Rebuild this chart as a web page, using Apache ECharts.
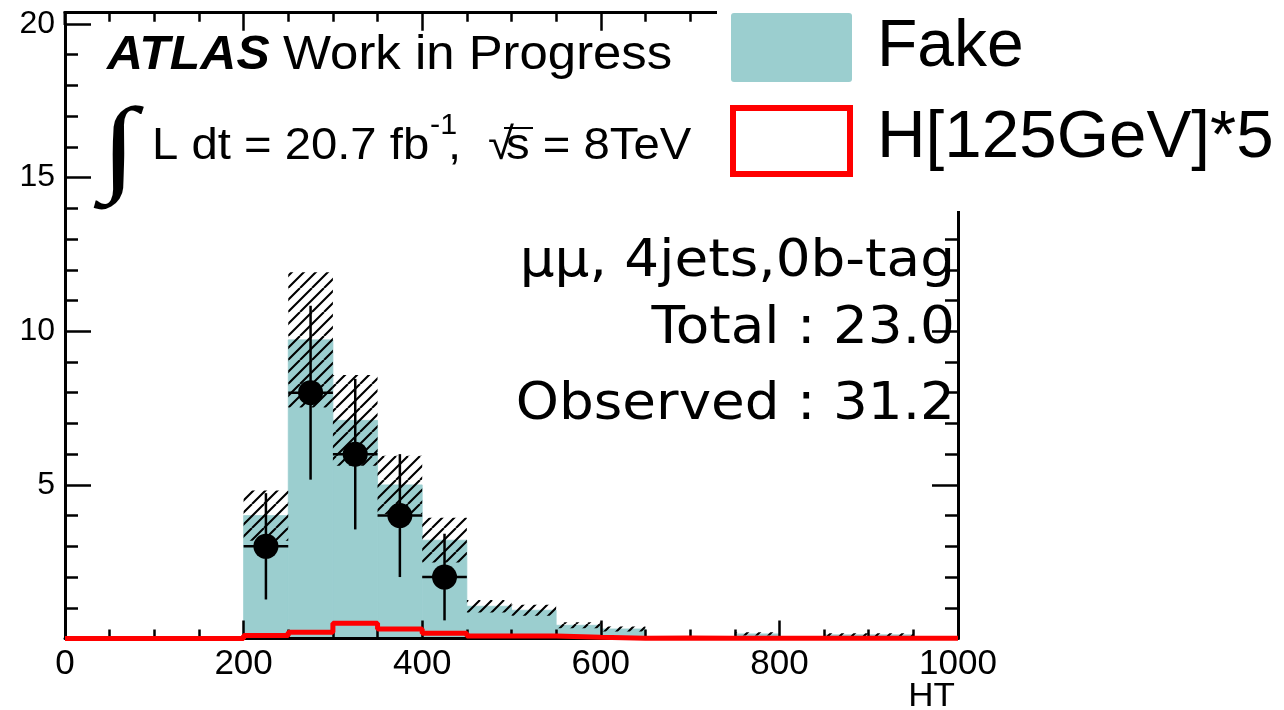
<!DOCTYPE html>
<html>
<head>
<meta charset="utf-8">
<script src="https://cdn.jsdelivr.net/npm/echarts@6/dist/echarts.min.js"></script>
<style>
  html, body { margin: 0; padding: 0; background: #ffffff; }
  #chart { width: 1284px; height: 710px; }
</style>
</head>
<body>
<div id="chart"></div>
<script>
// HT histogram, 50 GeV bins from 0 to 1000
const binWidth = 50;
const binLow = [0, 50, 100, 150, 200, 250, 300, 350, 400, 450,
                500, 550, 600, 650, 700, 750, 800, 850, 900, 950];
// Fake background expectation per bin
const fakeValues = [0, 0, 0, 0, 4.0, 9.72, 7.1, 5.0, 3.2, 1.05,
                    0.92, 0.43, 0.31, 0, 0, 0.15, 0, 0.12, 0.12, 0];
// Uncertainty on the fake estimate (hatched band)
const fakeErrors = [0, 0, 0, 0, 0.82, 2.2, 1.48, 0.95, 0.73, 0.2,
                    0.18, 0.1, 0.08, 0, 0, 0.05, 0, 0.05, 0.05, 0];
// Signal H[125GeV] scaled by 5
const higgsX5 = [0, 0, 0, 0, 0.1, 0.2, 0.5, 0.31, 0.17, 0.08,
                 0.08, 0.04, 0.01, 0.02, 0.005, 0.005, 0.005, 0.005, 0.005, 0.005];
// Observed data points
const dataX = [225, 275, 325, 375, 425];
const dataY = [3, 8, 6, 4, 2];
const dataErr = [1.73, 2.83, 2.45, 2.0, 1.41];

const FAKE_COLOR = '#9bcecf';
const RED = '#ff0000';
const SANS = '"Liberation Sans", Arial, Helvetica, sans-serif';
const STAT_FONT = '"DejaVu Sans", Verdana, sans-serif';

// frame geometry (pixels)
const FRAME_LEFT = 65, FRAME_RIGHT = 958, FRAME_TOP = 12.7, AXIS_TOP = 24, AXIS_BOTTOM = 638.5;

// diagonal hatch tile for the uncertainty band
function makeHatch() {
  const s = 12;
  const n = 24;
  const c = document.createElement('canvas');
  c.width = n; c.height = n;
  const ctx = c.getContext('2d');
  ctx.strokeStyle = '#000';
  ctx.lineWidth = 2.1;
  ctx.beginPath();
  for (let k = -1; k <= 4; k++) {
    ctx.moveTo(k * s - n, n); ctx.lineTo(k * s, 0);
  }
  ctx.stroke();
  return c;
}
const hatchPattern = { image: makeHatch(), repeat: 'repeat' };

const fakeBins = binLow.map((x, i) => [x, x + binWidth, fakeValues[i]]);
const bandBins = binLow.map((x, i) => [x, x + binWidth,
  Math.max(0, fakeValues[i] - fakeErrors[i]), fakeValues[i] + fakeErrors[i]]);
const higgsStep = binLow.map((x, i) => [x, higgsX5[i]]);
higgsStep.push([binLow[binLow.length - 1] + binWidth, higgsX5[higgsX5.length - 1]]);
const points = dataX.map((x, i) => [x, dataY[i], dataErr[i]]);

const tickStyle = { color: '#000', width: 2.5 };
const axisLineStyle = { color: '#000', width: 3 };

// text placed with a slight horizontal stretch
function label(x, y, text, font, align, sx) {
  return { type: 'text', z: 101, x: x, y: y, scaleX: sx || 1,
    style: { x: 0, y: 0, text: text, font: font, fill: '#000',
             align: align || 'left', verticalAlign: 'middle' } };
}

function xAxisDef(position, offset, showLabel) {
  return {
    type: 'value', position: position, offset: offset, min: 0, max: 1000, interval: 200, z: 10,
    axisLine: { show: true, onZero: false, lineStyle: axisLineStyle },
    axisTick: { show: true, inside: true, length: 18, lineStyle: tickStyle },
    minorTick: { show: true, splitNumber: 4, length: 9, lineStyle: tickStyle },
    axisLabel: { show: showLabel, margin: 8, fontSize: 35, fontFamily: SANS, color: '#000',
                 formatter: v => String(v) },
    splitLine: { show: false }
  };
}
function yAxisDef(position, showLabel) {
  return {
    type: 'value', position: position, min: 0, max: 20, interval: 5, z: 10,
    axisLine: { show: true, onZero: false, lineStyle: axisLineStyle },
    axisTick: { show: true, inside: true, length: 26, lineStyle: tickStyle },
    minorTick: { show: true, splitNumber: 5, length: 13, lineStyle: tickStyle },
    axisLabel: { show: showLabel, margin: 10, fontSize: 32, fontFamily: SANS, color: '#000',
                 showMinLabel: false, formatter: v => String(v) },
    splitLine: { show: false }
  };
}

const chart = echarts.init(document.getElementById('chart'), null, { renderer: 'canvas' });

chart.setOption({
  animation: false,
  backgroundColor: '#ffffff',
  grid: { left: FRAME_LEFT, right: 1284 - FRAME_RIGHT, top: AXIS_TOP, bottom: 710 - AXIS_BOTTOM,
          containLabel: false },
  xAxis: [ xAxisDef('bottom', 0, true), xAxisDef('top', AXIS_TOP - FRAME_TOP, false) ],
  yAxis: [ yAxisDef('left', true), yAxisDef('right', false) ],
  series: [
    {
      name: 'Fake', type: 'custom', z: 2, xAxisIndex: 0, yAxisIndex: 0,
      data: fakeBins,
      renderItem(params, api) {
        const v = api.value(2);
        if (!(v > 0)) return null;
        const p0 = api.coord([api.value(0), 0]);
        const p1 = api.coord([api.value(1), v]);
        return { type: 'rect',
          shape: { x: p0[0], y: p1[1], width: p1[0] - p0[0], height: p0[1] - p1[1] },
          style: { fill: FAKE_COLOR, stroke: FAKE_COLOR, lineWidth: 0.8 } };
      }
    },
    {
      name: 'Fake uncertainty', type: 'custom', z: 3, xAxisIndex: 0, yAxisIndex: 0,
      data: bandBins,
      renderItem(params, api) {
        const lo = api.value(2), hi = api.value(3);
        if (!(hi > lo)) return null;
        const p0 = api.coord([api.value(0), lo]);
        const p1 = api.coord([api.value(1), hi]);
        return { type: 'rect',
          shape: { x: p0[0], y: p1[1], width: p1[0] - p0[0], height: p0[1] - p1[1] },
          style: { fill: hatchPattern } };
      }
    },
    {
      name: 'H[125GeV]*5', type: 'line', step: 'end', z: 20, xAxisIndex: 0, yAxisIndex: 0,
      data: higgsStep, symbol: 'none', clip: false,
      lineStyle: { color: RED, width: 5 }
    },
    {
      name: 'Data errors', type: 'custom', z: 21, xAxisIndex: 0, yAxisIndex: 0,
      data: points,
      renderItem(params, api) {
        const x = api.value(0), y = api.value(1), e = api.value(2);
        const c = api.coord([x, y]);
        const top = api.coord([x, y + e]);
        const bot = api.coord([x, y - e]);
        const left = api.coord([x - binWidth / 2, y]);
        const right = api.coord([x + binWidth / 2, y]);
        const ls = { stroke: '#000', lineWidth: 2.5 };
        return { type: 'group', children: [
          { type: 'line', shape: { x1: c[0], y1: top[1], x2: c[0], y2: bot[1] }, style: ls },
          { type: 'line', shape: { x1: left[0], y1: c[1], x2: right[0], y2: c[1] }, style: ls }
        ] };
      }
    },
    {
      name: 'Data', type: 'scatter', z: 22, xAxisIndex: 0, yAxisIndex: 0,
      data: points.map(p => [p[0], p[1]]),
      symbol: 'circle', symbolSize: 25,
      itemStyle: { color: '#000', opacity: 1 }
    }
  ],
  graphic: [
    // left frame edge above the last y tick
    { type: 'line', z: 11, shape: { x1: FRAME_LEFT, y1: FRAME_TOP - 1.5, x2: FRAME_LEFT, y2: AXIS_TOP + 1 },
      style: { stroke: '#000', lineWidth: 3 } },

    // legend panel covering the top-right corner of the frame
    { type: 'rect', z: 100, shape: { x: 717, y: 0, width: 567, height: 211 },
      style: { fill: '#ffffff' } },
    { type: 'rect', z: 101, shape: { x: 731, y: 13, width: 121, height: 69, r: 3 },
      style: { fill: FAKE_COLOR } },
    label(877, 48, 'Fake', '66px ' + SANS, 'left', 1),
    { type: 'rect', z: 101, shape: { x: 733, y: 108, width: 117, height: 66 },
      style: { fill: 'none', stroke: RED, lineWidth: 6 } },
    label(877, 139, 'H[125GeV]*5', '66px ' + SANS, 'left', 1.02),

    // experiment label
    label(107, 56, 'ATLAS', 'italic bold 48px ' + SANS, 'left', 1.04),
    label(283, 56, 'Work in Progress', '48px ' + SANS, 'left', 1.06),

    // luminosity and energy
    label(119, 153, '∫', 'italic 106px "Liberation Serif", serif', 'center', 1.25),
    label(152, 147, 'L dt = 20.7 fb', '45px ' + SANS, 'left', 1.05),
    label(430, 126, '-1', '29px ' + SANS, 'left', 1.05),
    label(448, 147, ',', '45px ' + SANS, 'left', 1.05),
    label(488, 147, '√', '45px ' + SANS, 'left', 1.05),
    { type: 'line', z: 101, shape: { x1: 504, y1: 128, x2: 533, y2: 128 },
      style: { stroke: '#000', lineWidth: 2 } },
    label(506, 147, 's = 8TeV', '45px ' + SANS, 'left', 1.05),

    // channel and yields
    label(955, 263, 'μμ, 4jets,0b-tag', '51px ' + STAT_FONT, 'right', 1.075),
    label(955, 330, 'Total : 23.0', '51px ' + STAT_FONT, 'right', 1.075),
    label(955, 406, 'Observed : 31.2', '51px ' + STAT_FONT, 'right', 1.075),

    // x-axis title
    label(955, 697, 'HT', '34px ' + SANS, 'right', 1.03)
  ]
});
</script>
</body>
</html>
